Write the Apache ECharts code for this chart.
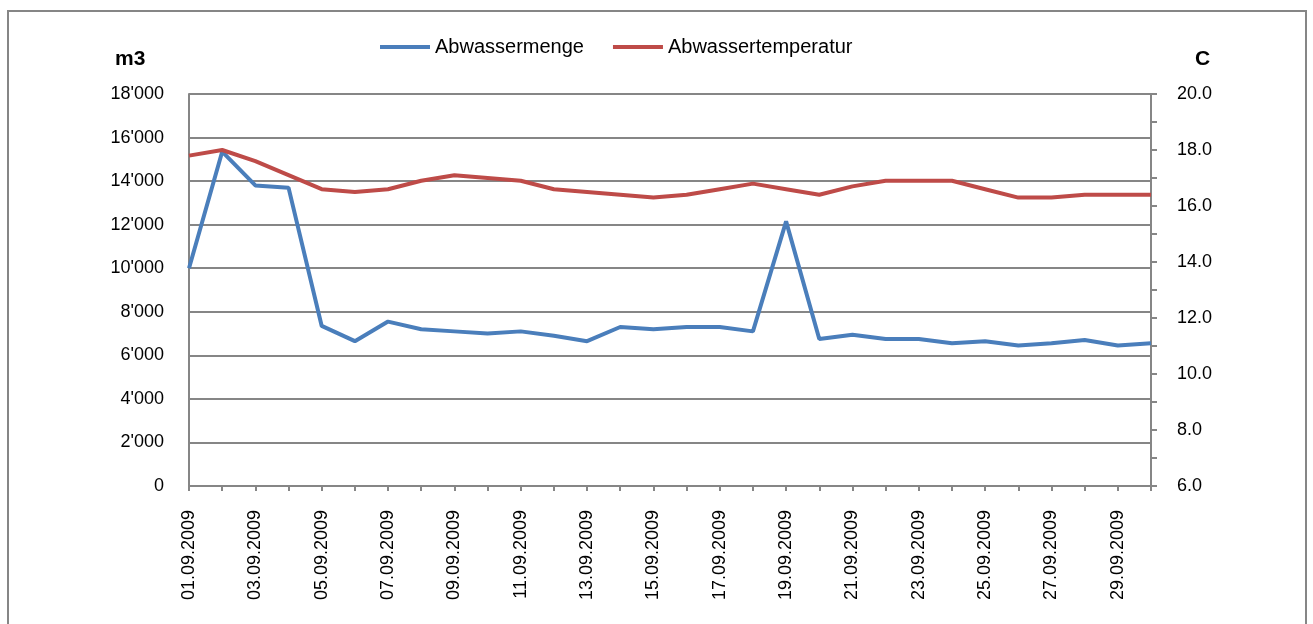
<!DOCTYPE html>
<html>
<head>
<meta charset="utf-8">
<title>Abwasser September 2009</title>
<script src="https://cdn.jsdelivr.net/npm/echarts@6/dist/echarts.min.js"></script>
<style>
  html, body { margin: 0; padding: 0; background: #fff; }
  #chart { width: 1313px; height: 624px; }
</style>
</head>
<body>
<div id="chart"></div>
<script>
// days of September 2009
const days = [
  '01.09.2009', '02.09.2009', '03.09.2009', '04.09.2009', '05.09.2009',
  '06.09.2009', '07.09.2009', '08.09.2009', '09.09.2009', '10.09.2009',
  '11.09.2009', '12.09.2009', '13.09.2009', '14.09.2009', '15.09.2009',
  '16.09.2009', '17.09.2009', '18.09.2009', '19.09.2009', '20.09.2009',
  '21.09.2009', '22.09.2009', '23.09.2009', '24.09.2009', '25.09.2009',
  '26.09.2009', '27.09.2009', '28.09.2009', '29.09.2009', '30.09.2009'
];

// m3 per day
const abwassermenge = [
  10000, 15350, 13800, 13700, 7350, 6650, 7550, 7200, 7100, 7000,
  7100, 6900, 6650, 7300, 7200, 7300, 7300, 7100, 12150, 6750,
  6950, 6750, 6750, 6550, 6650, 6450, 6550, 6700, 6450, 6550
];

// degrees C
const abwassertemperatur = [
  17.8, 18.0, 17.6, 17.1, 16.6, 16.5, 16.6, 16.9, 17.1, 17.0,
  16.9, 16.6, 16.5, 16.4, 16.3, 16.4, 16.6, 16.8, 16.6, 16.4,
  16.7, 16.9, 16.9, 16.9, 16.6, 16.3, 16.3, 16.4, 16.4, 16.4
];

const FONT = '"Liberation Sans", Arial, sans-serif';
const AXIS_GREY = '#868686';

const chart = echarts.init(document.getElementById('chart'), null, { renderer: 'canvas' });

const option = {
  backgroundColor: '#ffffff',
  animation: false,
  textStyle: { fontFamily: FONT },
  graphic: [
    {
      type: 'rect',
      shape: { x: 8, y: 11, width: 1298, height: 640 },
      style: { fill: 'none', stroke: AXIS_GREY, lineWidth: 2 },
      silent: true
    },
    {
      type: 'text',
      left: 115,
      top: 49,
      style: { text: 'm3', font: 'bold 21px ' + FONT, fill: '#000' }
    },
    {
      type: 'text',
      left: 1195,
      top: 49,
      style: { text: 'C', font: 'bold 21px ' + FONT, fill: '#000' }
    }
  ],
  legend: {
    left: 380,
    top: 37,
    padding: 0,
    itemWidth: 50,
    itemHeight: 4,
    itemGap: 29,
    icon: 'rect',
    textStyle: { fontFamily: FONT, fontSize: 20, color: '#000' },
    data: ['Abwassermenge', 'Abwassertemperatur']
  },
  grid: {
    left: 189,
    right: 162,
    top: 94,
    bottom: 138,
    containLabel: false
  },
  xAxis: {
    type: 'category',
    data: days,
    boundaryGap: false,
    axisLine: { lineStyle: { color: AXIS_GREY, width: 2 } },
    axisTick: {
      show: true,
      interval: 0,
      length: 5,
      inside: false,
      lineStyle: { color: AXIS_GREY, width: 2 }
    },
    axisLabel: {
      interval: 1,
      rotate: 90,
      margin: 24,
      color: '#000',
      fontSize: 18,
      fontFamily: FONT
    },
    splitLine: { show: false }
  },
  yAxis: [
    {
      type: 'value',
      min: 0,
      max: 18000,
      interval: 2000,
      position: 'left',
      axisLine: { show: true, lineStyle: { color: AXIS_GREY, width: 2 } },
      axisTick: { show: false },
      axisLabel: {
        color: '#000',
        fontSize: 18,
        fontFamily: FONT,
        margin: 25,
        formatter: v => v === 0 ? '0' : String(v).replace(/\B(?=(\d{3})+(?!\d))/g, "'")
      },
      splitLine: { show: true, lineStyle: { color: AXIS_GREY, width: 2 } }
    },
    {
      type: 'value',
      min: 6,
      max: 20,
      interval: 2,
      position: 'right',
      axisLine: { show: true, lineStyle: { color: AXIS_GREY, width: 2 } },
      axisTick: { show: true, length: 6, inside: false, lineStyle: { color: AXIS_GREY, width: 2 } },
      minorTick: { show: true, splitNumber: 2, length: 6, lineStyle: { color: AXIS_GREY, width: 2 } },
      axisLabel: {
        color: '#000',
        fontSize: 18,
        fontFamily: FONT,
        margin: 26,
        formatter: v => v.toFixed(1)
      },
      splitLine: { show: false }
    }
  ],
  series: [
    {
      name: 'Abwassermenge',
      type: 'line',
      yAxisIndex: 0,
      data: abwassermenge,
      symbol: 'none',
      color: '#4a7ebb',
      lineStyle: { color: '#4a7ebb', width: 4 }
    },
    {
      name: 'Abwassertemperatur',
      type: 'line',
      yAxisIndex: 1,
      data: abwassertemperatur,
      symbol: 'none',
      color: '#be4b48',
      lineStyle: { color: '#be4b48', width: 4 }
    }
  ]
};

chart.setOption(option);
</script>
</body>
</html>
